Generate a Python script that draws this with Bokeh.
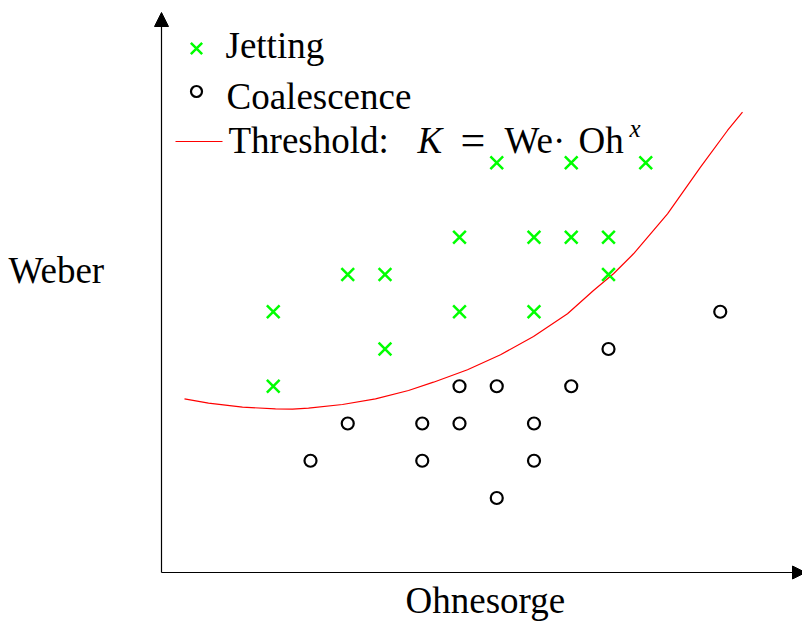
from bokeh.plotting import figure
from bokeh.models import Range1d, Label, Arrow, NormalHead
from bokeh.embed import file_html
from bokeh.resources import INLINE

# ---- data ----
jet_x = [3, 3, 5, 6, 6, 8, 8, 9, 10, 10, 11, 11, 12, 12, 13]
jet_y = [7, 5, 8, 8, 6, 9, 7, 11, 9, 7, 11, 9, 9, 8, 11]
coal_x = [4, 5, 7, 7, 8, 8, 9, 9, 10, 10, 11, 12, 15]
coal_y = [3, 4, 4, 3, 5, 4, 5, 2, 4, 3, 5, 6, 7]
curve_x = [0.617, 1.262, 2.174, 3.060, 3.517, 3.946, 4.859, 5.745, 6.631, 7.302,
           8.215, 9.101, 9.987, 10.899, 11.597, 12.134, 12.671, 13.584, 14.470,
           15.195, 15.597]
curve_y = [4.663, 4.545, 4.438, 4.395, 4.384, 4.411, 4.510, 4.663, 4.886, 5.109,
           5.442, 5.844, 6.336, 6.945, 7.570, 8.019, 8.556, 9.630, 10.881,
           11.866, 12.357]

labels = {
    "x": "Ohnesorge",
    "y": "Weber",
    "jet": "Jetting",
    "coal": "Coalescence",
    "thr": "Threshold:",
}

# ---- layout helpers (pixel -> data) ----
W, H = 802, 621
S = 37.25
OX, OY = 161, 572


def dx(px):
    return (px - OX) / S


def dy(py):
    return (OY - py) / S


FONT = "Liberation Serif"
FS = "37px"
GREEN = "#00ff00"
TSHIFT = 13  # label baseline correction (px)

p = figure(width=W, height=H, output_backend="svg", toolbar_location=None,
           x_axis_type=None, y_axis_type=None,
           x_range=Range1d(dx(0), dx(W)), y_range=Range1d(dy(H), dy(0)),
           min_border=0, outline_line_color=None)

# axes with arrows
p.add_layout(Arrow(end=NormalHead(size=13, fill_color="black", line_color="black", line_width=1),
                   x_start=0, y_start=0, x_end=dx(805), y_end=0,
                   line_color="black", line_width=1.2))
p.add_layout(Arrow(end=NormalHead(size=14, fill_color="black", line_color="black", line_width=1),
                   x_start=0, y_start=0, x_end=0, y_end=dy(12),
                   line_color="black", line_width=1.2))

# data
p.line(curve_x, curve_y, line_color="red", line_width=1.2)
p.scatter(jet_x, jet_y, marker="x", size=18, line_color=GREEN, line_width=2.5)
p.scatter(coal_x, coal_y, marker="circle", size=12, line_color="black",
          fill_color=None, line_width=2.2)

# legend (drawn by hand)
p.scatter([dx(196)], [dy(48)], marker="x", size=16, line_color=GREEN, line_width=2.5)
p.scatter([dx(196)], [dy(91)], marker="circle", size=11, line_color="black",
          fill_color=None, line_width=2.2)
p.line([dx(175), dx(222)], [dy(141), dy(141)], line_color="red", line_width=1.2)


def lab(px, py, text, size=FS, style="normal"):
    p.add_layout(Label(x=dx(px), y=dy(py - TSHIFT), text=text, text_font=FONT,
                       text_font_size=size, text_font_style=style,
                       text_baseline="alphabetic", text_align="left",
                       text_color="black"))


lab(225, 58, labels["jet"])
lab(226, 109, labels["coal"])
lab(228, 153, labels["thr"])
lab(417, 153, "K", style="italic")
lab(460, 153, "=", size="44px")
lab(504, 153, "We·")
lab(578, 153, "Oh")
lab(629, 141, "x", size="25px", style="italic")

lab(8, 283, labels["y"])
lab(405, 613, labels["x"])

open("out.html", "w").write(file_html(p, INLINE))
